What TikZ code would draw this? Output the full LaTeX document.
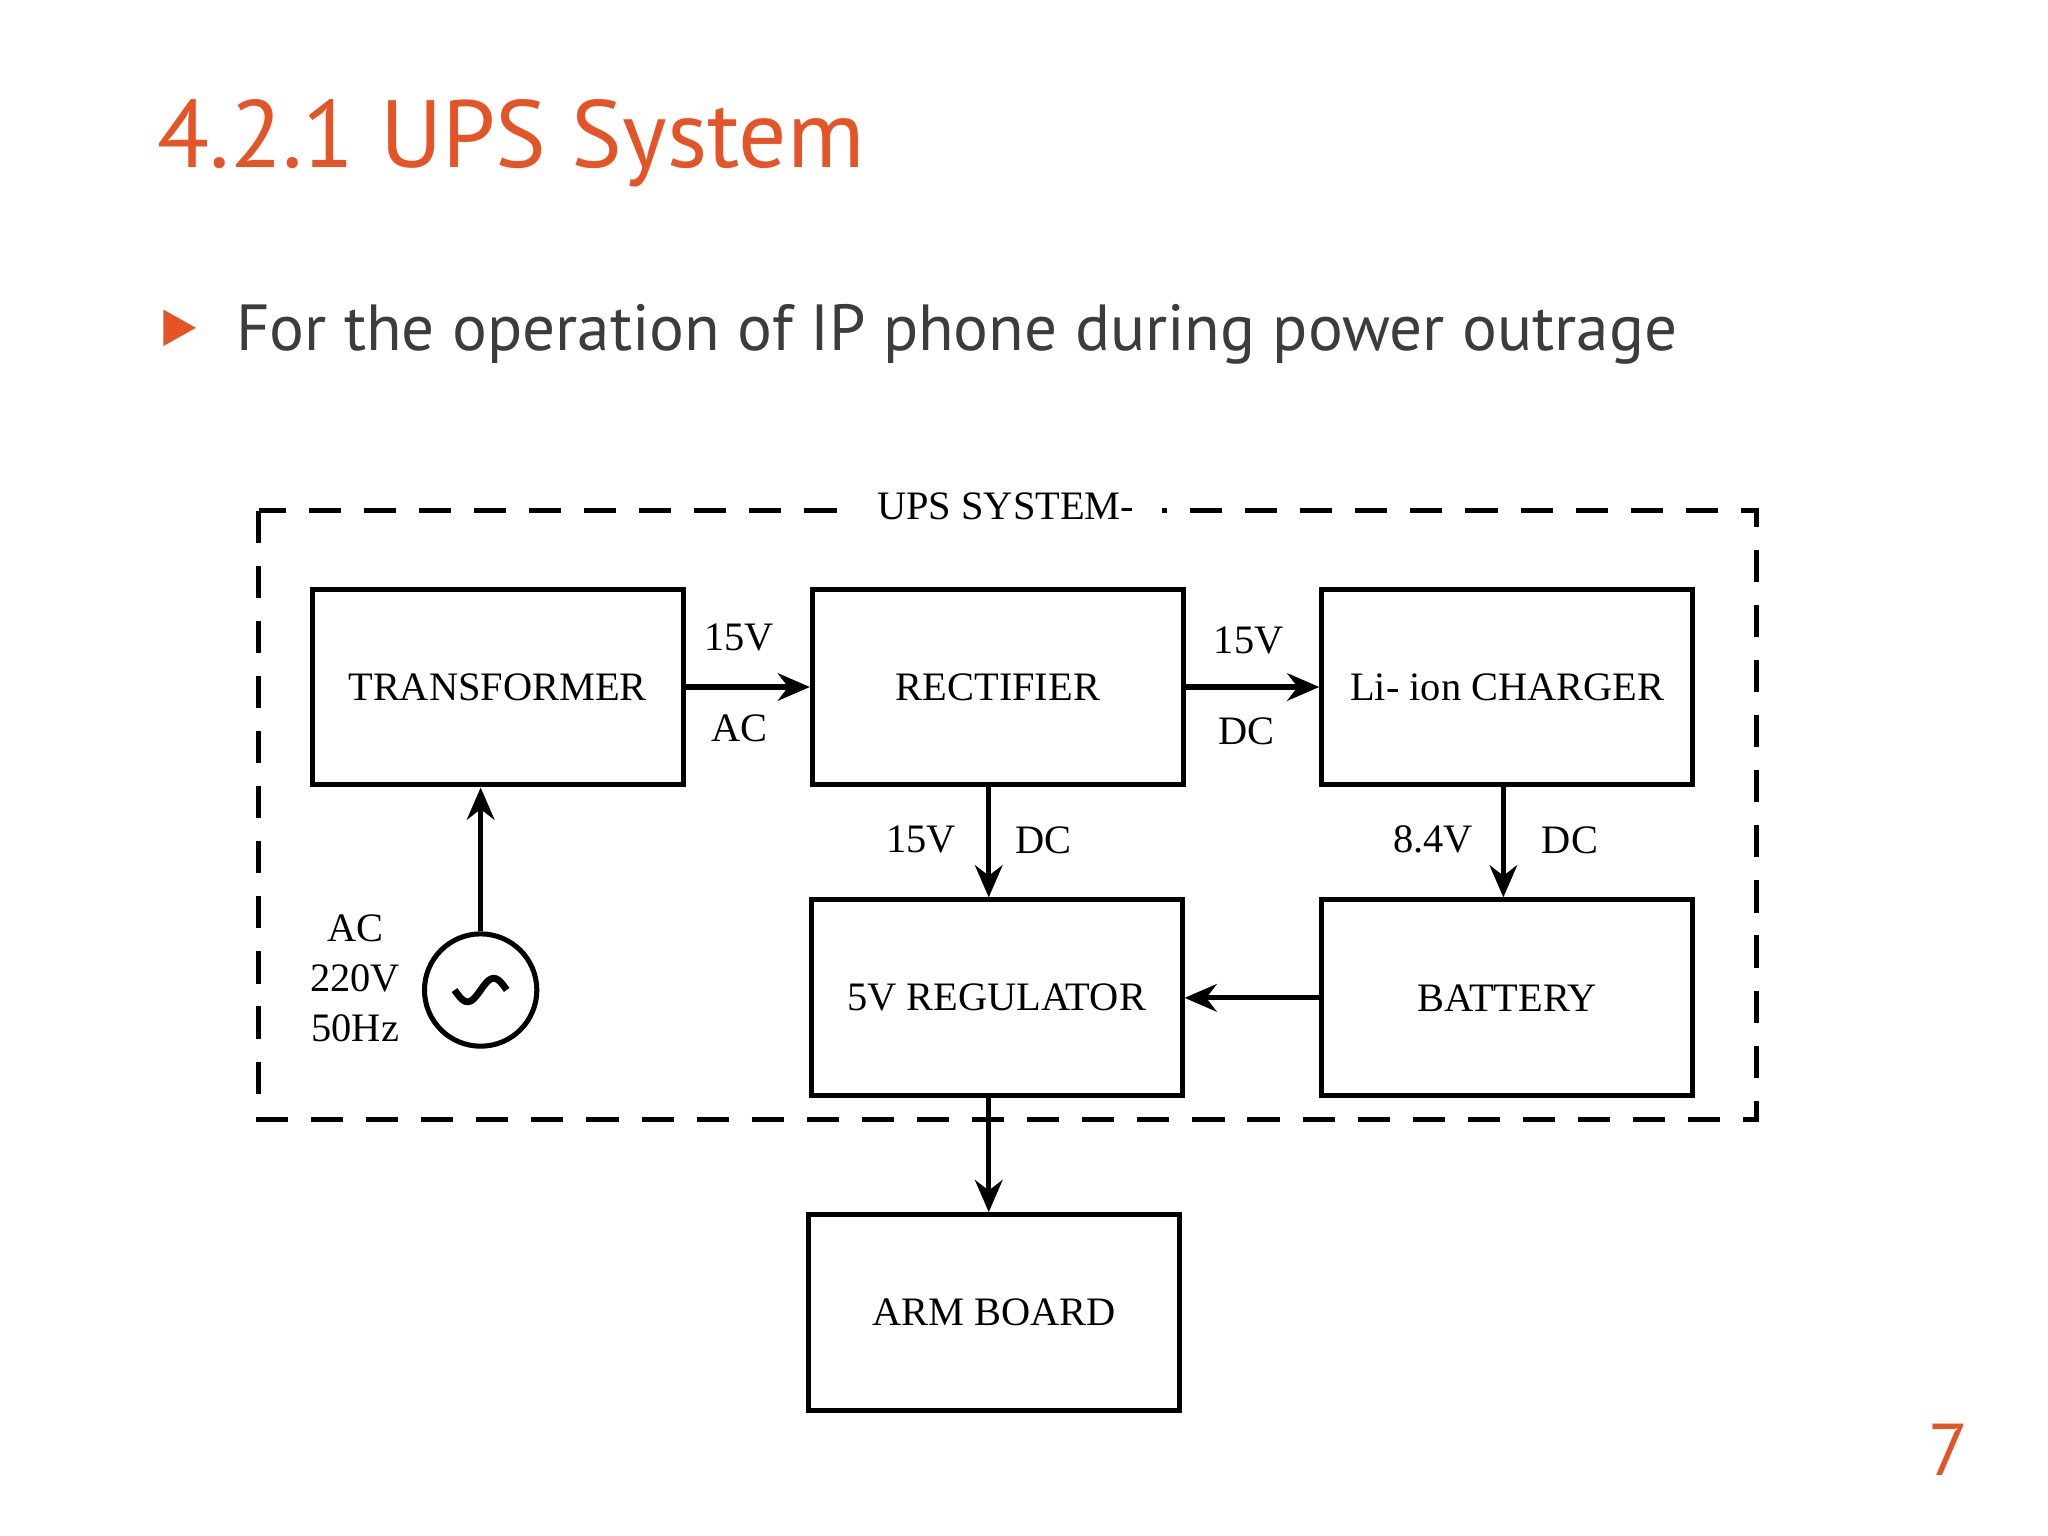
\documentclass[tikz,border=0pt]{standalone}
\usepackage{fontspec}
\setmainfont{Liberation Serif}
\newfontfamily\slidefont{PT Sans}
\usetikzlibrary{arrows.meta}
\definecolor{slideorange}{RGB}{228,84,38}
\definecolor{slidegray}{RGB}{60,60,60}
\begin{document}
\begin{tikzpicture}[x=1cm,y=-1cm,
  blk/.style={draw, line width=1.1pt, minimum width=2.84cm, minimum height=1.5cm, font=\fontsize{8.8}{10}\selectfont, inner sep=0pt},
  lbl/.style={font=\fontsize{8.8}{10}\selectfont, inner sep=0pt},
  arrow/.style={line width=1.1pt, -{Stealth[length=7pt,width=6pt]}}
]
\useasboundingbox[fill=white] (0,0) rectangle (15.68,11.76);

% slide title and bullet
\node[anchor=base west, inner sep=0pt, text=slideorange, font=\slidefont\fontsize{20.8}{25}\selectfont] (title) at (1.2,1.28) {4.2.1 UPS System};
\fill[slideorange] (1.25,2.37) -- (1.5,2.51) -- (1.25,2.65) -- cycle;
\node[anchor=base west, inner sep=0pt, text=slidegray, font=\slidefont\fontsize{14.2}{18}\selectfont] (bullet) at (1.8,2.68) {For the operation of IP phone during power outrage};

% UPS boundary
\draw[line width=1.1pt, dash pattern=on 7pt off 5pt] (1.98,3.91) rectangle (13.45,8.57);
\node[lbl, fill=white, inner xsep=6pt, inner ysep=2pt] (ups) at (7.7,3.88) {UPS SYSTEM-};

% blocks
\node[blk] (trans) at (3.81,5.26) {TRANSFORMER};
\node[blk] (rect) at (7.64,5.26) {RECTIFIER};
\node[blk] (charger) at (11.54,5.26) {Li- ion CHARGER};
\node[blk] (reg) at (7.63,7.64) {5V REGULATOR};
\node[blk] (batt) at (11.54,7.64) {BATTERY};
\node[blk] (arm) at (7.61,10.05) {ARM BOARD};

% AC source
\node[draw, circle, line width=1.1pt, minimum size=0.86cm, inner sep=0pt] (src) at (3.68,7.58) {};
\draw[line width=1.5pt] plot[domain=-0.2:0.2, samples=30] ({3.68+\x},{7.58-0.09*sin(\x/0.2*180)});
\node[lbl, align=center, font=\fontsize{8.8}{10.8}\selectfont] (srclbl) at (2.72,7.49) {AC\\220V\\50Hz};

% connectors
\draw[arrow] (src.north) -- (src.north |- trans.south);
\draw[arrow] (trans) -- (rect);
\draw[arrow] (rect) -- (charger);
\draw[arrow] ([xshift=-0.07cm]rect.south) -- ([xshift=-0.07cm]rect.south |- reg.north);
\draw[arrow] ([xshift=-0.03cm]charger.south) -- ([xshift=-0.03cm]batt.north);
\draw[arrow] (batt) -- (reg);
\draw[arrow] ([xshift=-0.06cm]reg.south) -- ([xshift=-0.06cm]reg.south |- arm.north);

% connector labels
\node[lbl] (l1) at (5.66,4.88) {15V};
\node[lbl] (l2) at (5.66,5.58) {AC};
\node[lbl] (l3) at (9.56,4.9) {15V};
\node[lbl] (l4) at (9.54,5.6) {DC};
\node[lbl] (l5) at (7.05,6.43) {15V};
\node[lbl] (l6) at (7.99,6.43) {DC};
\node[lbl] (l7) at (10.97,6.43) {8.4V};
\node[lbl] (l8) at (12.02,6.43) {DC};

% page number
\node[anchor=base, inner sep=0pt, text=slideorange, font=\slidefont\fontsize{16}{18}\selectfont] (page) at (14.92,11.3) {7};
\end{tikzpicture}
\end{document}
